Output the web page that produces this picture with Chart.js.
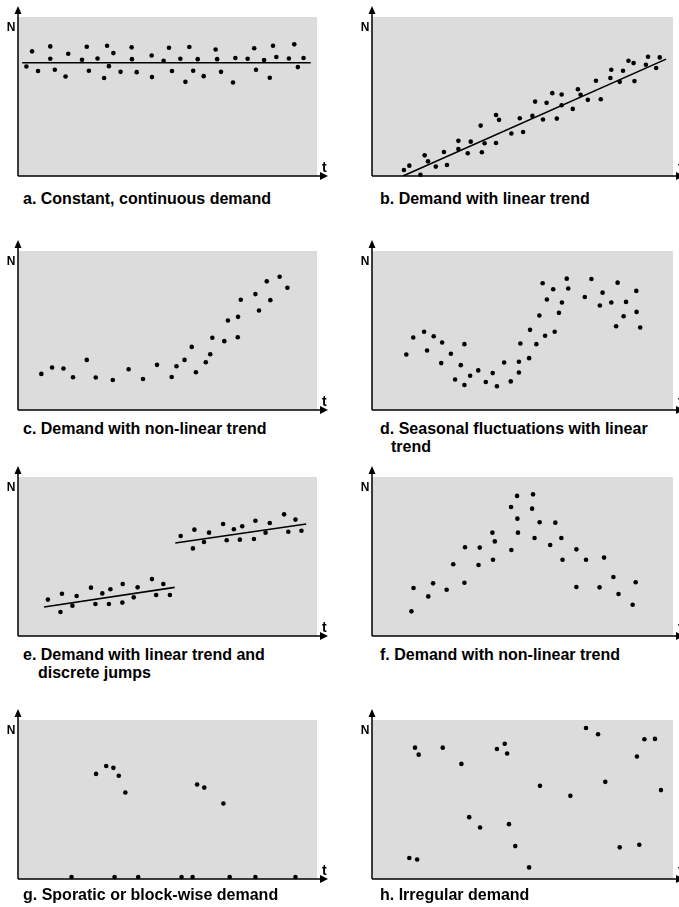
<!DOCTYPE html>
<html>
<head>
<meta charset="utf-8">
<script src="https://cdn.jsdelivr.net/npm/chart.js@4.4.1/dist/chart.umd.min.js"></script>
<style>
  html, body { margin: 0; padding: 0; background: #fff; }
  #page { position: relative; width: 679px; height: 907px; overflow: hidden; font-family: "Liberation Sans", Arial, sans-serif; }
  canvas { position: absolute; }
  .cap { position: absolute; font-weight: bold; font-size: 16px; line-height: 18px; color: #000; white-space: nowrap; }
</style>
</head>
<body>
<div id="page">
  <canvas id="pa" width="339" height="185" style="left:0;top:0"></canvas>
  <canvas id="pb" width="340" height="185" style="left:339px;top:0"></canvas>
  <canvas id="pc" width="339" height="185" style="left:0;top:234px"></canvas>
  <canvas id="pd" width="340" height="185" style="left:339px;top:234px"></canvas>
  <canvas id="pe" width="339" height="185" style="left:0;top:460px"></canvas>
  <canvas id="pf" width="340" height="185" style="left:339px;top:460px"></canvas>
  <canvas id="pg" width="339" height="185" style="left:0;top:703px"></canvas>
  <canvas id="ph" width="340" height="185" style="left:339px;top:703px"></canvas>

  <div class="cap" style="left:23px;top:190px">a. Constant, continuous demand</div>
  <div class="cap" style="left:380px;top:190px">b. Demand with linear trend</div>
  <div class="cap" style="left:23px;top:420px">c. Demand with non-linear trend</div>
  <div class="cap" style="left:380px;top:420px">d. Seasonal fluctuations with linear<br><span style="padding-left:11px">trend</span></div>
  <div class="cap" style="left:23px;top:646px">e. Demand with linear trend and<br><span style="padding-left:15px">discrete jumps</span></div>
  <div class="cap" style="left:380px;top:646px">f. Demand with non-linear trend</div>
  <div class="cap" style="left:23px;top:886px">g. Sporatic or block-wise demand</div>
  <div class="cap" style="left:380px;top:886px">h. Irregular demand</div>
</div>

<script>
// a. constant demand
const constT = [2.8, 4.7, 6.7, 10.8, 10.8, 12.3, 15.9, 16.8, 21.4, 23.0, 23.7, 26.6, 28.8, 29.8, 30.4, 31.9, 34.3, 38.0, 38.1, 39.7, 44.7, 44.8, 48.7, 50.5, 51.5, 54.3, 56.0, 57.3, 58.6, 60.1, 62.1, 66.1, 66.6, 67.9, 71.9, 72.7, 76.8, 79.0, 79.6, 82.3, 84.2, 85.3, 86.4, 90.6, 92.4, 93.6, 95.5];
const constN = [68.9, 78.4, 66.0, 81.5, 73.7, 66.8, 62.6, 76.9, 73.1, 81.3, 66.2, 73.9, 61.6, 81.9, 69.1, 77.3, 65.5, 80.9, 73.5, 65.3, 75.8, 62.2, 72.5, 80.7, 66.0, 73.7, 59.2, 81.1, 66.2, 73.5, 62.8, 79.6, 73.5, 65.5, 58.8, 74.2, 73.7, 80.3, 66.8, 72.9, 61.8, 81.9, 74.8, 73.9, 82.8, 68.5, 74.2];
const constFitT = [1.4, 97.9];
const constFitN = [71.2, 71.2];

// b. linear trend
const linT = [10.6, 12.4, 16.1, 17.5, 18.6, 21.2, 23.9, 24.9, 28.7, 28.7, 31.8, 32.8, 36.1, 36.5, 37.4, 41.2, 41.2, 42.2, 46.3, 49.1, 50.2, 53.3, 54.2, 56.8, 58.0, 59.9, 61.4, 63.0, 63.0, 66.7, 68.4, 69.3, 71.7, 74.4, 76.0, 79.2, 79.5, 82.3, 83.4, 85.2, 86.9, 87.2, 91.0, 91.7, 94.4, 95.6];
const linN = [3.8, 6.5, 0.8, 13.0, 9.2, 5.9, 15.1, 6.9, 22.1, 17.0, 14.3, 21.6, 31.7, 14.9, 20.6, 38.4, 20.8, 35.3, 26.7, 36.3, 27.7, 37.8, 46.8, 35.5, 46.0, 52.1, 36.1, 51.3, 44.5, 42.2, 54.6, 51.1, 47.9, 59.9, 48.3, 61.6, 66.8, 59.2, 66.2, 72.5, 71.0, 59.7, 70.0, 75.0, 67.9, 74.6];
const linFitT = [10.3, 97.7];
const linFitN = [0, 73.5];

// c. non-linear trend
const curveT = [7.8, 11.4, 15.2, 18.4, 23.0, 26.0, 31.7, 37.0, 41.8, 46.5, 51.4, 53.0, 55.7, 58.1, 59.5, 62.8, 64.3, 65.0, 69.0, 70.2, 73.5, 73.6, 74.5, 79.4, 80.6, 83.2, 84.4, 87.5, 90.1];
const curveN = [22.7, 26.7, 26.1, 20.6, 31.5, 20.4, 18.9, 25.6, 19.5, 28.4, 20.8, 27.5, 31.5, 39.7, 23.7, 30.0, 35.1, 45.4, 43.3, 56.3, 45.8, 58.6, 69.3, 72.9, 62.6, 80.9, 69.1, 83.8, 76.9];

// d. seasonal with trend
const seasonT = [11.4, 13.7, 17.3, 18.3, 20.5, 23.0, 23.3, 26.2, 27.6, 29.5, 30.7, 30.7, 32.6, 35.3, 37.8, 40.1, 41.5, 43.9, 46.1, 48.8, 48.8, 49.3, 52.2, 52.5, 54.6, 55.6, 56.7, 57.5, 58.1, 60.2, 60.7, 62.1, 63.1, 64.7, 65.2, 70.7, 72.9, 75.7, 76.6, 79.5, 81.1, 81.6, 83.6, 84.4, 87.8, 87.9, 89.1];
const seasonN = [34.9, 45.6, 49.2, 37.4, 46.4, 29.5, 42.5, 35.4, 19.2, 28.2, 15.7, 41.4, 21.5, 24.9, 17.6, 23.2, 14.9, 29.9, 18.0, 23.6, 30.3, 41.8, 32.6, 50.4, 41.4, 59.4, 79.7, 46.7, 69.5, 75.9, 49.2, 61.1, 67.6, 82.6, 76.4, 71.1, 82.4, 65.7, 73.8, 67.6, 52.7, 80.1, 59.0, 68.0, 74.9, 61.7, 51.9];

// e. linear trend with jumps
const jumpT = [10.0, 14.2, 14.7, 18.2, 19.6, 24.4, 25.9, 28.2, 30.4, 30.9, 34.9, 35.0, 38.7, 40.0, 44.8, 46.2, 48.6, 50.8, 54.4, 58.5, 59.0, 62.2, 63.9, 68.6, 69.8, 72.2, 74.2, 75.0, 78.9, 79.4, 82.8, 84.2, 89.0, 90.4, 92.8, 94.8];
const jumpN = [22.9, 15.1, 26.6, 19.1, 25.2, 30.4, 20.1, 26.8, 20.1, 29.4, 21.0, 32.7, 24.3, 30.6, 35.8, 25.8, 32.7, 25.8, 62.9, 55.1, 66.9, 59.1, 65.0, 70.4, 60.2, 67.1, 60.6, 69.0, 61.0, 72.5, 65.0, 71.1, 76.5, 65.6, 73.2, 66.2];
const jumpFit1T = [8.7, 52.4];
const jumpFit1N = [18.2, 30.6];
const jumpFit2T = [52.6, 96.4];
const jumpFit2N = [58.5, 70.4];

// f. rise and fall
const peakT = [13.1, 13.8, 18.7, 20.3, 24.8, 27.0, 30.7, 30.9, 35.4, 35.8, 40.0, 40.2, 40.8, 46.2, 46.3, 48.2, 48.3, 48.5, 53.2, 53.5, 54.0, 55.7, 59.2, 60.9, 62.9, 63.3, 67.9, 67.9, 71.1, 75.6, 77.1, 80.2, 81.9, 86.6, 87.6];
const peakN = [15.5, 30.2, 24.9, 33.1, 29.1, 45.1, 33.5, 55.8, 44.7, 55.6, 65.0, 48.0, 59.5, 81.1, 54.1, 88.1, 73.8, 65.0, 80.1, 89.1, 61.6, 71.5, 57.2, 71.3, 61.6, 48.0, 54.5, 30.8, 48.0, 30.6, 49.3, 37.1, 26.4, 19.7, 33.8];

// g. sporadic
const sporT = [17.9, 26.1, 29.5, 31.9, 32.3, 33.7, 35.9, 40.2, 54.7, 58.4, 59.9, 62.3, 68.7, 70.8, 79.4, 92.8];
const sporN = [1.3, 66.1, 71.1, 69.9, 1.3, 64.9, 54.4, 1.3, 1.3, 1.3, 59.4, 57.5, 47.5, 1.3, 1.3, 1.3];

// h. irregular
const irrT = [12.4, 14.3, 15.0, 15.5, 23.5, 29.7, 32.3, 35.9, 41.5, 44.1, 44.9, 45.5, 47.6, 52.2, 55.8, 65.9, 71.1, 75.1, 77.5, 82.3, 88.0, 88.8, 90.5, 94.0, 96.0];
const irrN = [13.2, 82.6, 12.3, 78.2, 82.6, 72.4, 38.9, 32.4, 81.8, 85.1, 78.9, 34.5, 20.7, 7.3, 58.6, 52.3, 95.0, 91.0, 61.1, 19.9, 77.0, 21.5, 87.9, 88.1, 55.9];

const pts = (t, n) => t.map((v, i) => ({ x: v, y: n[i] }));

// grey panel + arrow axes with N / t labels
const frame = {
  id: 'frame',
  beforeDraw(chart) {
    const { ctx, chartArea: { left, top, right, bottom } } = chart;
    ctx.save();
    ctx.fillStyle = '#dcdcdc';
    ctx.fillRect(left, top, right - left, bottom - top);
    ctx.restore();
  },
  afterDraw(chart) {
    const { ctx, chartArea: { left, top, right, bottom } } = chart;
    ctx.save();
    ctx.strokeStyle = '#000';
    ctx.fillStyle = '#000';
    ctx.lineWidth = 1.5;
    ctx.beginPath();
    ctx.moveTo(left, bottom);
    ctx.lineTo(left, top - 5);
    ctx.moveTo(left, bottom);
    ctx.lineTo(right + 5, bottom);
    ctx.stroke();
    ctx.beginPath();
    ctx.moveTo(left, top - 11);
    ctx.lineTo(left - 3.5, top - 3);
    ctx.lineTo(left + 3.5, top - 3);
    ctx.fill();
    ctx.beginPath();
    ctx.moveTo(right + 11, bottom);
    ctx.lineTo(right + 3, bottom - 4);
    ctx.lineTo(right + 3, bottom + 4);
    ctx.fill();
    ctx.font = 'bold 12px "Liberation Sans", Arial, sans-serif';
    ctx.textAlign = 'right';
    ctx.fillText('N', left - 2.5, top + 13.5);
    ctx.font = 'bold 14px "Liberation Sans", Arial, sans-serif';
    ctx.textAlign = 'left';
    ctx.fillText('t', right + 5, bottom - 4);
    ctx.restore();
  }
};

function panel(id, right, dots, fits) {
  const datasets = [{
    data: dots,
    showLine: false,
    pointRadius: 2.3,
    pointBackgroundColor: '#000',
    pointBorderWidth: 0,
    clip: false
  }];
  fits.forEach(f => datasets.push({
    data: f,
    showLine: true,
    borderColor: '#000',
    borderWidth: 1.6,
    pointRadius: 0
  }));
  new Chart(document.getElementById(id), {
    type: 'scatter',
    data: { datasets },
    options: {
      responsive: false,
      animation: false,
      layout: { padding: { left: right ? 33 : 18, right: right ? 6 : 22, top: 17, bottom: 9 } },
      scales: {
        x: { display: false, min: 0, max: 100 },
        y: { display: false, min: 0, max: 100 }
      },
      plugins: { legend: { display: false }, tooltip: { enabled: false } }
    },
    plugins: [frame]
  });
}

panel('pa', false, pts(constT, constN), [pts(constFitT, constFitN)]);
panel('pb', true, pts(linT, linN), [pts(linFitT, linFitN)]);
panel('pc', false, pts(curveT, curveN), []);
panel('pd', true, pts(seasonT, seasonN), []);
panel('pe', false, pts(jumpT, jumpN), [pts(jumpFit1T, jumpFit1N), pts(jumpFit2T, jumpFit2N)]);
panel('pf', true, pts(peakT, peakN), []);
panel('pg', false, pts(sporT, sporN), []);
panel('ph', true, pts(irrT, irrN), []);
</script>
</body>
</html>
